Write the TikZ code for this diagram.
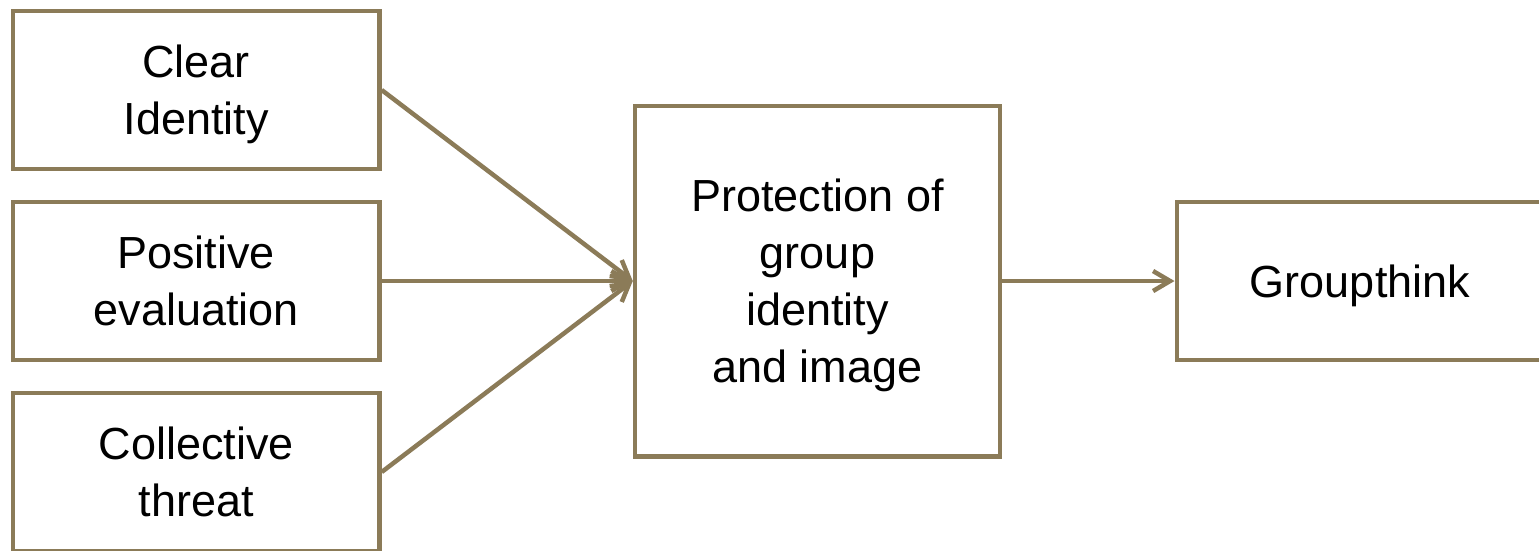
\documentclass[tikz,border=0pt]{standalone}
\usepackage{fontspec}
\setmainfont{Liberation Sans}
\usetikzlibrary{arrows.meta}
\definecolor{boxbrown}{RGB}{139,123,88}
\begin{document}
\begin{tikzpicture}[
  box/.style={draw=boxbrown, line width=1.28pt, fill=white, align=center,
    minimum width=3.665cm, minimum height=1.58cm, inner sep=0pt,
    text depth=0pt, font=\fontsize{12.8}{16.2}\selectfont},
  link/.style={draw=boxbrown, line width=1.28pt,
    -{Straight Barb[length=1.7mm,width=2.0mm]}}
]
\useasboundingbox (0,0) rectangle (15.39,-5.5);
%causes
\node[box] (clear) at (1.962,-0.90) {Clear\\Identity};
\node[box] (posit) at (1.962,-2.81) {Positive\\evaluation};
\node[box] (threat) at (1.962,-4.72) {Collective\\threat};
%mediator
\node[box, minimum width=3.65cm, minimum height=3.505cm] (protect) at (8.175,-2.81) {Protection of\\group\\identity\\and image};
%outcome
\node[box] (gthink) at (13.60,-2.81) {Groupthink};

\draw[link] (clear.east) -- (protect.west);
\draw[link] (posit.east) -- (protect.west);
\draw[link] (threat.east) -- (protect.west);
\draw[link] (protect.east) -- (gthink.west);
\end{tikzpicture}
\end{document}
